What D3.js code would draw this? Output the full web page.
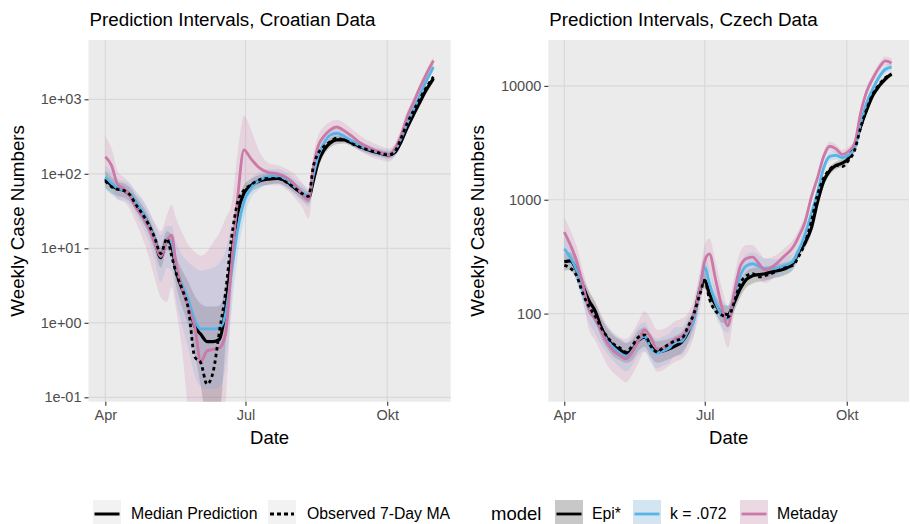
<!DOCTYPE html>
<html><head><meta charset="utf-8">
<script src="https://cdn.jsdelivr.net/npm/d3@7"></script>
<style>body{margin:0;background:#fff} svg{display:block} text{font-family:"Liberation Sans",Arial,sans-serif}</style>
</head><body><svg id="c" width="910" height="524"></svg>
<script>
// ---------------- DATA (days since 1 April 2020) ----------------
const leftDays = [0,4,8,12,16,20,24,28,32,36,40,43,46,50,54,58,62,66,70,74,78,82,86,90,94,100,106,112,118,124,128,132,135,138,142,146,150,155,160,166,172,178,184,188,192,196,200,204,208,213];
const leftObserved = [80,67,62,60,52,38,29,21,14,8.5,13.5,8,4.6,2.8,1.5,0.35,0.29,0.15,0.22,0.75,2.5,14,42,60,70,83,87,87,76,62,54,50,125,185,235,270,300,285,255,225,205,190,180,200,300,480,700,1000,1400,2000];
const leftEpi = [85,70,63,60,52,40,30,21,13,7.5,13,11,5,2.8,1.8,0.9,0.7,0.56,0.56,0.6,1.5,8,30,55,68,80,85,87,78,62,54,48,80,140,210,260,285,285,260,230,205,190,180,195,270,420,620,900,1300,1900];
const leftK = [90,75,64,60,53,41,31,21,13,7.8,13,12,5.5,3.2,2,1.1,0.83,0.83,0.83,0.85,1.3,5,18,42,62,82,92,93,82,64,55,50,95,170,260,330,350,320,275,235,210,192,182,205,300,480,730,1100,1700,2700];
const leftMeta = [170,130,72,63,50,35,27,19,12,7.8,12.5,15,6,2.8,1.6,0.9,0.3,0.42,0.44,0.46,0.7,6.3,50,210,165,120,104,100,88,68,52,45,120,230,320,390,425,380,320,255,220,195,180,220,330,590,900,1400,2100,3300];
const leftEpiLo = [65,55,50,48,42,32,23,16,9.5,5.5,9.5,8,3.2,1.6,0.9,0.4,0.14,0.05,0.05,0.06,0.5,4.5,22,42,55,66,72,74,66,53,45,40,65,115,180,225,250,255,235,205,185,172,162,175,240,370,550,800,1150,1700];
const leftEpiHi = [110,90,78,74,65,50,38,27,17,10.5,17,15,8,5,3.5,2.3,1.8,1.65,1.65,1.7,3,13,40,70,83,96,100,100,90,73,64,57,95,165,245,300,325,320,290,255,225,210,200,215,300,470,700,1000,1450,2100];
const leftKLo = [62,52,46,44,38,28,20,13,7,3.5,5.5,5,2,0.9,0.45,0.2,0.14,0.13,0.13,0.14,0.25,1.5,8,25,45,62,72,74,64,50,42,36,70,135,210,270,295,275,235,200,180,165,155,175,260,420,640,960,1500,2400];
const leftKHi = [130,105,85,80,72,58,46,33,22,15,20,20,12,8,6.5,5.5,5,5.2,5.5,6.3,9,20,40,70,85,105,115,115,102,82,72,65,125,210,310,380,400,370,320,270,240,220,210,235,340,540,820,1250,1900,3000];
const leftMetaLo = [90,70,45,42,33,22,14,8,4,2.2,1.9,3,1.5,0.4,0.06,0.02,0.01,0.01,0.01,0.01,0.08,2,25,60,80,70,70,70,60,45,35,25,70,150,230,280,300,270,240,200,170,155,145,175,250,430,680,1050,1600,2500];
const leftMetaHi = [320,220,110,90,75,55,45,32,22,17,28,38,25,16,11,9,8,9,12,16,25,40,200,600,420,200,140,130,115,95,75,60,180,320,430,500,530,480,400,320,270,240,220,260,400,700,1050,1600,2400,3700];

const rightDays = [0,4,8,12,16,20,24,28,32,36,40,44,48,52,56,60,64,68,72,76,80,84,88,91,94,98,102,106,110,114,118,122,126,130,136,142,148,152,156,160,164,168,172,176,180,184,188,192,196,200,204,208,212];
const rightObserved = [265,250,215,150,115,95,75,62,54,50,46,52,62,65,52,46,50,54,58,60,76,100,150,195,135,105,97,93,125,185,215,224,210,215,230,250,265,320,420,640,1100,1550,1850,2000,1950,2200,2700,4300,6300,8500,10300,11800,12600];
const rightEpi = [285,290,240,175,130,105,75,60,52,48,45,48,58,62,52,46,47,49,52,56,68,95,165,196,150,120,100,98,125,165,200,215,220,224,235,245,275,350,420,560,950,1450,1800,2000,2100,2300,3000,4400,6200,8300,10000,11500,12700];
const rightK = [370,310,240,160,110,88,70,58,50,45,42,47,58,63,50,45,47,50,57,57,70,87,170,256,185,125,98,90,140,215,262,274,260,248,250,262,285,360,500,750,1150,1900,2400,2450,2350,2450,2800,4700,7200,9500,12000,14000,14600];
const rightMeta = [520,400,290,180,108,90,70,55,47,43,40,46,58,72,62,49,50,54,60,63,72,98,170,290,335,200,115,78,150,260,305,313,275,242,265,315,380,480,640,1050,1550,2400,2950,2800,2500,2650,3100,5800,9000,11700,14500,16600,15900];
const rightEpiLo = [238,242,200,145,107,87,61,49,42,39,37,39,47,51,42,37,38,40,42,45,55,78,140,167,126,100,83,82,105,139,170,184,190,194,205,215,243,312,376,505,865,1330,1660,1850,1950,2140,2800,4120,5820,7820,9450,10850,12000];
const rightEpiHi = [340,345,285,210,158,127,92,74,64,59,55,59,71,76,64,57,58,60,64,69,83,115,195,230,178,143,120,117,148,194,234,250,254,258,268,278,310,392,468,620,1040,1580,1950,2160,2260,2470,3210,4700,6600,8800,10600,12200,13400];
const rightKLo = [290,245,190,125,84,67,53,44,38,34,31,35,43,47,37,33,35,37,43,43,53,66,130,200,145,95,74,68,105,160,205,218,208,200,205,220,240,305,435,665,1030,1720,2190,2240,2150,2250,2560,4300,6600,8700,11000,12900,13500];
const rightKHi = [470,395,305,205,142,115,92,76,66,60,56,63,77,84,67,60,63,67,76,76,93,115,220,330,240,165,130,118,180,275,330,345,325,305,300,310,335,420,570,840,1270,2080,2620,2670,2560,2670,3050,5100,7800,10300,13000,15100,15700];
const rightMetaLo = [370,280,200,130,72,58,45,35,30,27,25,29,37,46,40,31,32,35,38,40,46,64,110,190,230,135,75,50,100,185,225,235,205,185,210,265,325,415,560,940,1400,2170,2680,2540,2270,2410,2820,5270,8200,10650,13200,15150,14500];
const rightMetaHi = [700,540,390,240,155,125,98,78,68,62,60,68,85,105,90,72,73,78,86,90,100,135,240,400,460,285,170,115,210,350,400,400,350,305,320,370,440,550,720,1160,1700,2630,3230,3060,2740,2900,3400,6350,9850,12800,15900,18100,17400];

const leftYTicks = [0.1, 1, 10, 100, 1000];
const leftYLabels = ["1e-01","1e+00","1e+01","1e+02","1e+03"];
const rightYTicks = [100, 1000, 10000];
const rightYLabels = ["100","1000","10000"];
const xTickDays = [0, 91, 183];
const xTickLabels = ["Apr","Jul","Okt"];
const titles = ["Prediction Intervals, Croatian Data", "Prediction Intervals, Czech Data"];
const models = ["Epi*", "k = .072", "Metaday"];
const lineLegend = ["Median Prediction", "Observed 7-Day MA"];

// ---------------- STYLE ----------------
const modelLine = {"Epi*":"#000000", "k = .072":"#56B4E9", "Metaday":"#CC79A7"};
const modelFill = {"Epi*":"#666666", "k = .072":"#56B4E9", "Metaday":"#CC79A7"};
const modelAlpha = {"Epi*":0.3, "k = .072":0.2, "Metaday":0.2};
const FONT = '"Liberation Sans",Arial,sans-serif';

const svg = d3.select("#c");
svg.append("rect").attr("width",910).attr("height",524).attr("fill","#fff");
const base = Date.UTC(2020,3,1);
const dayDate = d => new Date(base + d*864e5);

function drawPanel(p, idx) {
  const x = d3.scaleUtc().domain([dayDate(p.xd[0]), dayDate(p.xd[1])]).range([p.x0, p.x1]);
  const y = d3.scaleLog().domain(p.yd).range([p.y1, p.y0]);
  const g = svg.append("g");
  g.append("rect").attr("x",p.x0).attr("y",p.y0).attr("width",p.x1-p.x0).attr("height",p.y1-p.y0).attr("fill","#EBEBEB");
  p.yt.forEach(v => g.append("line").attr("x1",p.x0).attr("x2",p.x1).attr("y1",y(v)).attr("y2",y(v)).attr("stroke","#D9D9D9").attr("stroke-width",1.2));
  xTickDays.forEach(d => g.append("line").attr("x1",x(dayDate(d))).attr("x2",x(dayDate(d))).attr("y1",p.y0).attr("y2",p.y1).attr("stroke","#D9D9D9").attr("stroke-width",1.2));
  const clipId = "clip"+idx;
  svg.append("clipPath").attr("id",clipId).append("rect").attr("x",p.x0).attr("y",p.y0).attr("width",p.x1-p.x0).attr("height",p.y1-p.y0);
  const cg = g.append("g").attr("clip-path",`url(#${clipId})`);
  const curve = d3.curveMonotoneX;
  models.forEach(m => {
    const lo = p.lo[m], hi = p.hi[m];
    const area = d3.area().curve(curve).x((d,i)=>x(dayDate(p.days[i]))).y0((d,i)=>y(lo[i])).y1((d,i)=>y(hi[i]));
    cg.append("path").attr("d", area(p.days)).attr("fill", modelFill[m]).attr("fill-opacity", modelAlpha[m]);
  });
  models.forEach(m => {
    const line = d3.line().curve(curve).x((d,i)=>x(dayDate(p.days[i]))).y(d=>y(d));
    cg.append("path").attr("d", line(p.med[m])).attr("fill","none").attr("stroke",modelLine[m]).attr("stroke-width", m==="Epi*"?3.2:2.8).attr("stroke-linejoin","round");
  });
  const oline = d3.line().curve(curve).x((d,i)=>x(dayDate(p.days[i]))).y(d=>y(d));
  cg.append("path").attr("d", oline(p.obs)).attr("fill","none").attr("stroke","#000").attr("stroke-width",2.8).attr("stroke-dasharray","3.5,3.2");

  // axes
  const ya = d3.axisLeft(y).tickValues(p.yt).tickFormat((d,i)=>p.yl[i]).tickSize(4).tickPadding(3);
  const yg = svg.append("g").attr("transform",`translate(${p.x0},0)`).call(ya);
  const xa = d3.axisBottom(x).tickValues(xTickDays.map(dayDate)).tickFormat((d,i)=>xTickLabels[i]).tickSize(4).tickPadding(4);
  const xg = svg.append("g").attr("transform",`translate(0,${p.y1})`).call(xa);
  [yg,xg].forEach(a => {
    a.select(".domain").remove();
    a.selectAll(".tick line").attr("stroke","#333").attr("stroke-width",1.1);
    a.selectAll(".tick text").attr("fill","#4D4D4D").style("font-size","14.5px").style("font-family",FONT);
  });
  svg.append("text").attr("x",p.x0+1).attr("y",26).text(p.title).style("font-size","18.8px").attr("fill","#000");
  svg.append("text").attr("x",(p.x0+p.x1)/2).attr("y",444).attr("text-anchor","middle").text("Date").style("font-size","18.5px");
  svg.append("text").attr("transform",`translate(${p.yTitleX},${(p.y0+p.y1)/2}) rotate(-90)`).attr("text-anchor","middle").text("Weekly Case Numbers").style("font-size","18.8px");
}

drawPanel({x0:88.5, x1:450.7, y0:40, y1:401.7, xd:[-10.92,224.2], yd:[Math.pow(10,-1.059), Math.pow(10,3.796)],
  yt:leftYTicks, yl:leftYLabels, days:leftDays, obs:leftObserved,
  med:{"Epi*":leftEpi,"k = .072":leftK,"Metaday":leftMeta},
  lo:{"Epi*":leftEpiLo,"k = .072":leftKLo,"Metaday":leftMetaLo},
  hi:{"Epi*":leftEpiHi,"k = .072":leftKHi,"Metaday":leftMetaHi},
  title:titles[0], yTitleX:24}, 0);
drawPanel({x0:548.3, x1:909, y0:40, y1:401.7, xd:[-10.35,223.3], yd:[Math.pow(10,1.226), Math.pow(10,4.403)],
  yt:rightYTicks, yl:rightYLabels, days:rightDays, obs:rightObserved,
  med:{"Epi*":rightEpi,"k = .072":rightK,"Metaday":rightMeta},
  lo:{"Epi*":rightEpiLo,"k = .072":rightKLo,"Metaday":rightMetaLo},
  hi:{"Epi*":rightEpiHi,"k = .072":rightKHi,"Metaday":rightMetaHi},
  title:titles[1], yTitleX:484}, 1);

// ---------------- LEGEND ----------------
const lg = svg.append("g");
const ly = 514;
function keyBox(x0, fill, alpha) {
  lg.append("rect").attr("x",x0).attr("y",500).attr("width",28).attr("height",28).attr("fill","#F2F2F2");
  if (fill) lg.append("rect").attr("x",x0).attr("y",500).attr("width",28).attr("height",28).attr("fill",fill).attr("fill-opacity",alpha);
}
keyBox(93, null);
lg.append("line").attr("x1",94.5).attr("x2",119.5).attr("y1",ly).attr("y2",ly).attr("stroke","#000").attr("stroke-width",3);
lg.append("text").attr("x",131).attr("y",ly+5).text(lineLegend[0]).style("font-size","15.8px");
keyBox(268, null);
lg.append("line").attr("x1",270).attr("x2",294).attr("y1",ly).attr("y2",ly).attr("stroke","#000").attr("stroke-width",3).attr("stroke-dasharray","4,3");
lg.append("text").attr("x",307).attr("y",ly+5).text(lineLegend[1]).style("font-size","15.8px");
lg.append("text").attr("x",491).attr("y",ly+6).text("model").style("font-size","18.5px");
const mx = [555, 633, 740];
models.forEach((m,i) => {
  keyBox(mx[i], modelFill[m], modelAlpha[m]);
  lg.append("line").attr("x1",mx[i]+1.5).attr("x2",mx[i]+26.5).attr("y1",ly).attr("y2",ly).attr("stroke",modelLine[m]).attr("stroke-width",2.8);
  lg.append("text").attr("x",mx[i]+37).attr("y",ly+5).text(m).style("font-size","15.8px");
});
</script></body></html>
